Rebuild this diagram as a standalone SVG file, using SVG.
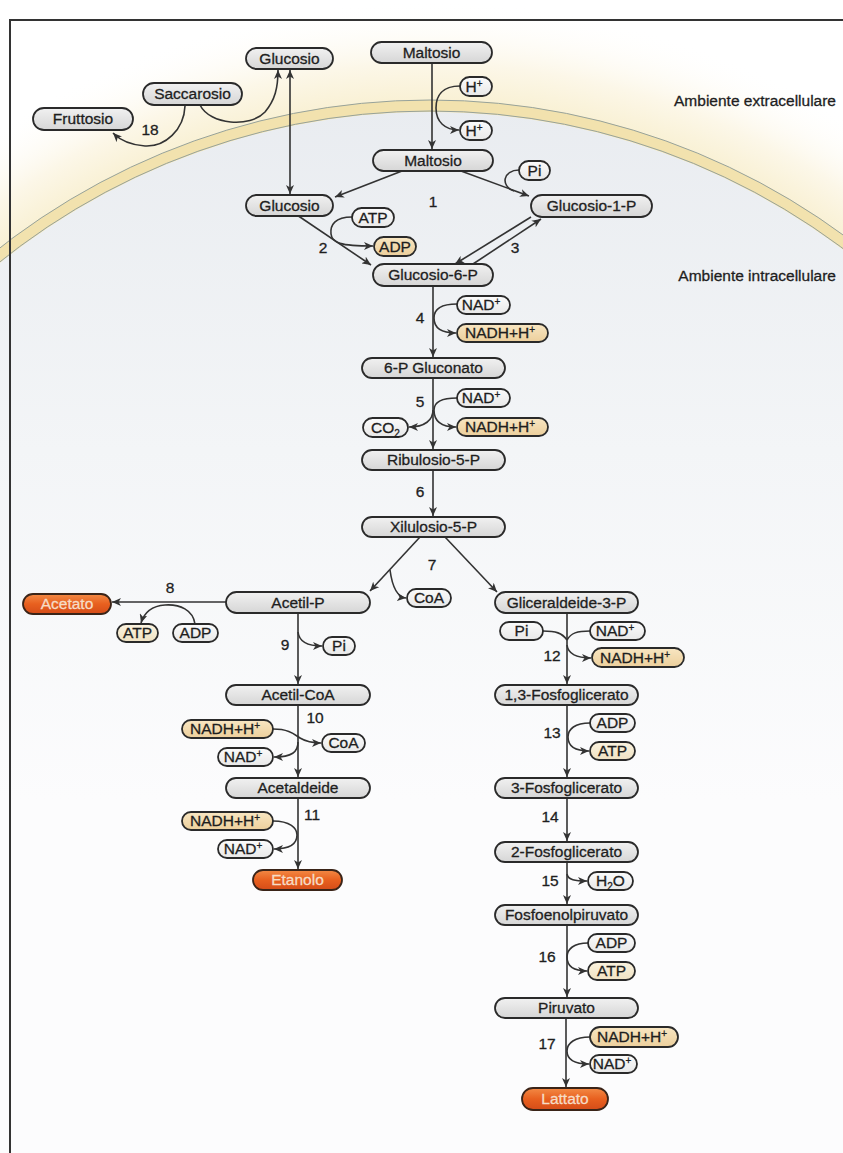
<svg xmlns="http://www.w3.org/2000/svg" width="843" height="1153" viewBox="0 0 843 1153">
<defs>
<style>
.box{stroke:#2a2a2a;stroke-width:1.8}
.g{fill:url(#gGray)}
.w{fill:url(#gWhite)}
.y{fill:url(#gYel)}
.c{fill:url(#gCream)}
.o{fill:url(#gOra);stroke:#3a2418}
text{font-family:"Liberation Sans",Arial,Helvetica,sans-serif;font-size:15.5px;fill:#1e1e1e;stroke:#1e1e1e;stroke-width:0.3;text-anchor:middle}
.ot{fill:#f6dcc6;stroke:#f6dcc6}
.amb{text-anchor:end}
.ln{fill:none;stroke:#333;stroke-width:1.6}
.ar{marker-end:url(#arr)}
.bi{marker-end:url(#arr);marker-start:url(#arrS)}
</style>
<marker id="arr" markerUnits="userSpaceOnUse" markerWidth="10" markerHeight="8" refX="9" refY="4" orient="auto"><path d="M0,0 L9,4 L0,8 L2.5,4 Z" fill="#333"/></marker>
<marker id="arrS" markerUnits="userSpaceOnUse" markerWidth="10" markerHeight="8" refX="9" refY="4" orient="auto-start-reverse"><path d="M0,0 L9,4 L0,8 L2.5,4 Z" fill="#333"/></marker>
<linearGradient id="gGray" x1="0" y1="0" x2="0" y2="1"><stop offset="0" stop-color="#f1f1f1"/><stop offset="1" stop-color="#d6d6d6"/></linearGradient>
<linearGradient id="gWhite" x1="0" y1="0" x2="0" y2="1"><stop offset="0" stop-color="#fbfbfb"/><stop offset="1" stop-color="#e8e8e8"/></linearGradient>
<linearGradient id="gYel" x1="0" y1="0" x2="0" y2="1"><stop offset="0" stop-color="#f8e6c2"/><stop offset="1" stop-color="#eccf9c"/></linearGradient>
<linearGradient id="gCream" x1="0" y1="0" x2="0" y2="1"><stop offset="0" stop-color="#fbf3df"/><stop offset="1" stop-color="#efe2c3"/></linearGradient>
<linearGradient id="gOra" x1="0" y1="0" x2="0" y2="1"><stop offset="0" stop-color="#f38a45"/><stop offset="0.5" stop-color="#e8601f"/><stop offset="1" stop-color="#d54c18"/></linearGradient>
<radialGradient id="glow" gradientUnits="userSpaceOnUse" cx="430" cy="800" r="800"><stop offset="0.86" stop-color="#f8efcf"/><stop offset="0.92" stop-color="#fcf7e8"/><stop offset="1" stop-color="#ffffff" stop-opacity="0"/></radialGradient>
<linearGradient id="inner" gradientUnits="userSpaceOnUse" x1="0" y1="100" x2="0" y2="800"><stop offset="0" stop-color="#e9ecf0"/><stop offset="0.5" stop-color="#f3f5f7"/><stop offset="1" stop-color="#fcfcfd"/></linearGradient>
</defs>
<rect x="0" y="0" width="843" height="1153" fill="#ffffff"/>
<g id="membrane">
<circle cx="430" cy="800" r="800" fill="url(#glow)"/>
<circle cx="430" cy="800" r="694" fill="none" stroke="#f2e2ae" stroke-width="12"/>
<circle cx="430" cy="800" r="688" fill="url(#inner)"/>
<circle cx="430" cy="800" r="700" fill="none" stroke="#97a29a" stroke-width="1"/>
<circle cx="430" cy="800" r="689" fill="none" stroke="#97a29a" stroke-width="1"/>
</g>
<g id="frame">
<path d="M10,1153 V20 H843" fill="none" stroke="#333" stroke-width="2"/>
</g>
<text class="amb" x="836" y="106">Ambiente extracellulare</text>
<text class="amb" x="836" y="281">Ambiente intracellulare</text>
<g id="connectors">
<path class="ln ar" d="M432,63 V149"/>
<path class="ln ar" d="M460,86 C442,86 436,96 436,108 C436,122 445,130 459,130"/>
<path class="ln bi" d="M290,70 V194"/>
<path class="ln ar" d="M200,105 C210,125 250,128 265,112 C275,100 278,88 278,70"/>
<path class="ln ar" d="M185,106 C184,130 165,147 145,146 C130,145 120,140 113,133"/>
<path class="ln ar" d="M402,171 L335,197"/>
<path class="ln ar" d="M461,171 L529,196"/>
<path class="ln" d="M519,170 C503,170 500,186 514,191"/>
<path class="ln ar" d="M297,215 L371,265"/>
<path class="ln ar" d="M352,217 C335,217 330,225 331,234 C332,243 340,246 373,246"/>
<path class="ln ar" d="M531,217 L455,264"/>
<path class="ln ar" d="M473,264 L541,219"/>
<path class="ln ar" d="M433,286 V357"/>
<path class="ln ar" d="M457,304 C440,304 434,310 434,318 C434,327 440,333 456,333"/>
<path class="ln ar" d="M433,378 V449"/>
<path class="ln ar" d="M457,398 C440,398 434,403 434,410 C434,420 440,427 456,427"/>
<path class="ln ar" d="M433,410 C433,420 425,427 409,427"/>
<path class="ln ar" d="M433,470 V516"/>
<path class="ln ar" d="M420,537 L370,591"/>
<path class="ln ar" d="M445,537 L497,592"/>
<path class="ln ar" d="M390,570 C392,585 396,597 406,598"/>
<path class="ln ar" d="M226,602 L112,602"/>
<path class="ln ar" d="M195,624 C193,610 180,604 165,605 C152,606 144,613 141,623"/>
<path class="ln ar" d="M298,613 V684"/>
<path class="ln ar" d="M298,632 C299,641 306,646 322,646"/>
<path class="ln ar" d="M298,705 V777"/>
<path class="ln ar" d="M273,729 C290,729 295,735 300,738 C305,741 312,743 321,743"/>
<path class="ln ar" d="M298,742 C298,752 292,757 274,757"/>
<path class="ln ar" d="M298,798 V869"/>
<path class="ln ar" d="M273,821 C290,821 297,828 297,835 C297,844 290,849 274,849"/>
<path class="ln ar" d="M567,613 V684"/>
<path class="ln" d="M543,631 C556,631 562,633 567,640"/>
<path class="ln" d="M590,631 C577,631 571,633 567,640"/>
<path class="ln ar" d="M567,645 C568,653 575,658 591,658"/>
<path class="ln ar" d="M567,705 V777"/>
<path class="ln ar" d="M590,723 C575,723 568,729 568,737 C568,746 575,751 589,751"/>
<path class="ln ar" d="M567,798 V841"/>
<path class="ln ar" d="M567,862 V904"/>
<path class="ln ar" d="M567,874 C568,880 575,881 587,881"/>
<path class="ln ar" d="M567,925 V997"/>
<path class="ln ar" d="M588,943 C574,943 567,949 567,957 C567,966 574,971 587,971"/>
<path class="ln ar" d="M566,1018 V1087"/>
<path class="ln ar" d="M590,1037 C575,1037 567,1043 567,1051 C567,1059 574,1064 589,1064"/>
</g>
<g id="labels">
<text x="150" y="135">18</text>
<text x="433" y="207">1</text>
<text x="323" y="253">2</text>
<text x="515" y="253">3</text>
<text x="420" y="323">4</text>
<text x="420" y="407">5</text>
<text x="420" y="497">6</text>
<text x="432" y="570">7</text>
<text x="170" y="593">8</text>
<text x="285" y="650">9</text>
<text x="315" y="723">10</text>
<text x="312" y="820">11</text>
<text x="552" y="661">12</text>
<text x="552" y="738">13</text>
<text x="550" y="822">14</text>
<text x="550" y="886">15</text>
<text x="547" y="962">16</text>
<text x="547" y="1049">17</text>
</g>
<g id="n_glucosio_ext"><rect class="box g" x="246" y="48" width="87" height="21" rx="10.5"/><text x="289.5" y="63.5">Glucosio</text></g>
<g id="n_maltosio_ext"><rect class="box g" x="371" y="42" width="121" height="21" rx="10.5"/><text x="431.5" y="57.5">Maltosio</text></g>
<g id="n_saccarosio"><rect class="box g" x="143" y="83" width="99" height="22" rx="11"/><text x="192.5" y="99">Saccarosio</text></g>
<g id="n_fruttosio"><rect class="box g" x="33" y="108" width="100" height="22" rx="11"/><text x="83" y="124">Fruttosio</text></g>
<g id="n_h_out"><rect class="box w" x="460" y="77" width="32" height="19" rx="9.5"/><text x="474" y="91.5">H<tspan dy="-5" font-size="10">+</tspan></text></g>
<g id="n_h_in"><rect class="box w" x="460" y="121" width="32" height="19" rx="9.5"/><text x="474" y="135.5">H<tspan dy="-5" font-size="10">+</tspan></text></g>
<g id="n_maltosio_int"><rect class="box g" x="373" y="150" width="120" height="21" rx="10.5"/><text x="433" y="165.5">Maltosio</text></g>
<g id="n_pi1"><rect class="box w" x="519" y="161" width="31" height="19" rx="9.5"/><text x="534.5" y="175.5">Pi</text></g>
<g id="n_glucosio_int"><rect class="box g" x="246" y="195" width="87" height="21" rx="10.5"/><text x="289.5" y="210.5">Glucosio</text></g>
<g id="n_g1p"><rect class="box g" x="531" y="195" width="121" height="22" rx="11"/><text x="591.5" y="211">Glucosio-1-P</text></g>
<g id="n_atp2"><rect class="box w" x="352" y="208" width="42" height="19" rx="9.5"/><text x="373" y="222.5">ATP</text></g>
<g id="n_adp2"><rect class="box y" x="374" y="237" width="42" height="19" rx="9.5"/><text x="395" y="251.5">ADP</text></g>
<g id="n_g6p"><rect class="box g" x="373" y="264" width="120" height="22" rx="11"/><text x="433" y="280">Glucosio-6-P</text></g>
<g id="n_nad4"><rect class="box w" x="457" y="296" width="53" height="18" rx="9"/><text x="481" y="310">NAD<tspan dy="-5" font-size="10">+</tspan></text></g>
<g id="n_nadh4"><rect class="box y" x="457" y="324" width="91" height="18" rx="9"/><text x="500" y="338">NADH+H<tspan dy="-5" font-size="10">+</tspan></text></g>
<g id="n_6pg"><rect class="box g" x="362" y="358" width="143" height="20" rx="10"/><text x="433.5" y="373">6-P Gluconato</text></g>
<g id="n_nad5"><rect class="box w" x="457" y="389" width="53" height="18" rx="9"/><text x="481" y="403">NAD<tspan dy="-5" font-size="10">+</tspan></text></g>
<g id="n_nadh5"><rect class="box y" x="457" y="418" width="91" height="18" rx="9"/><text x="500" y="432">NADH+H<tspan dy="-5" font-size="10">+</tspan></text></g>
<g id="n_co2"><rect class="box w" x="363" y="418" width="45" height="19" rx="9.5"/><text x="385.5" y="432.5">CO<tspan dy="4" font-size="10">2</tspan></text></g>
<g id="n_ribulosio"><rect class="box g" x="362" y="450" width="143" height="20" rx="10"/><text x="433.5" y="465">Ribulosio-5-P</text></g>
<g id="n_xilulosio"><rect class="box g" x="362" y="517" width="143" height="20" rx="10"/><text x="433.5" y="532">Xilulosio-5-P</text></g>
<g id="n_acetilp"><rect class="box g" x="226" y="592" width="144" height="21" rx="10.5"/><text x="298" y="607.5">Acetil-P</text></g>
<g id="n_coa7"><rect class="box w" x="407" y="589" width="44" height="18" rx="9"/><text x="429" y="603">CoA</text></g>
<g id="n_gap"><rect class="box g" x="495" y="592" width="143" height="21" rx="10.5"/><text x="566.5" y="607.5">Gliceraldeide-3-P</text></g>
<g id="n_acetato"><rect class="box o" x="23" y="594" width="88" height="20" rx="10"/><text class="ot" x="67" y="609">Acetato</text></g>
<g id="n_atp8"><rect class="box c" x="117" y="624" width="41" height="18" rx="9"/><text x="137.5" y="638">ATP</text></g>
<g id="n_adp8"><rect class="box w" x="173" y="624" width="45" height="18" rx="9"/><text x="195.5" y="638">ADP</text></g>
<g id="n_pi9"><rect class="box w" x="323" y="637" width="32" height="18" rx="9"/><text x="339" y="651">Pi</text></g>
<g id="n_pi12"><rect class="box w" x="500" y="622" width="43" height="18" rx="9"/><text x="521.5" y="636">Pi</text></g>
<g id="n_nad12"><rect class="box w" x="590" y="622" width="55" height="18" rx="9"/><text x="615" y="636">NAD<tspan dy="-5" font-size="10">+</tspan></text></g>
<g id="n_nadh12"><rect class="box y" x="592" y="648" width="92" height="19" rx="9.5"/><text x="635" y="662.5">NADH+H<tspan dy="-5" font-size="10">+</tspan></text></g>
<g id="n_13bpg"><rect class="box g" x="495" y="685" width="143" height="20" rx="10"/><text x="566.5" y="700">1,3-Fosfoglicerato</text></g>
<g id="n_acetilcoa"><rect class="box g" x="226" y="685" width="144" height="20" rx="10"/><text x="298" y="700">Acetil-CoA</text></g>
<g id="n_nadh10"><rect class="box y" x="182" y="720" width="91" height="18" rx="9"/><text x="225" y="734">NADH+H<tspan dy="-5" font-size="10">+</tspan></text></g>
<g id="n_coa10"><rect class="box w" x="322" y="734" width="43" height="18" rx="9"/><text x="343.5" y="748">CoA</text></g>
<g id="n_nad10"><rect class="box w" x="218" y="748" width="55" height="18" rx="9"/><text x="243" y="762">NAD<tspan dy="-5" font-size="10">+</tspan></text></g>
<g id="n_acetaldeide"><rect class="box g" x="226" y="778" width="144" height="20" rx="10"/><text x="298" y="793">Acetaldeide</text></g>
<g id="n_nadh11"><rect class="box y" x="182" y="812" width="91" height="18" rx="9"/><text x="225" y="826">NADH+H<tspan dy="-5" font-size="10">+</tspan></text></g>
<g id="n_nad11"><rect class="box w" x="218" y="840" width="55" height="18" rx="9"/><text x="243" y="854">NAD<tspan dy="-5" font-size="10">+</tspan></text></g>
<g id="n_etanolo"><rect class="box o" x="253" y="870" width="89" height="20" rx="10"/><text class="ot" x="297.5" y="885">Etanolo</text></g>
<g id="n_adp13"><rect class="box w" x="590" y="714" width="45" height="18" rx="9"/><text x="612.5" y="728">ADP</text></g>
<g id="n_atp13"><rect class="box c" x="590" y="742" width="45" height="18" rx="9"/><text x="612.5" y="756">ATP</text></g>
<g id="n_3pg"><rect class="box g" x="495" y="778" width="143" height="20" rx="10"/><text x="566.5" y="793">3-Fosfoglicerato</text></g>
<g id="n_2pg"><rect class="box g" x="495" y="842" width="143" height="20" rx="10"/><text x="566.5" y="857">2-Fosfoglicerato</text></g>
<g id="n_h2o"><rect class="box w" x="588" y="872" width="45" height="18" rx="9"/><text x="610.5" y="886">H<tspan dy="4" font-size="10">2</tspan><tspan dy="-4">O</tspan></text></g>
<g id="n_pep"><rect class="box g" x="495" y="905" width="143" height="20" rx="10"/><text x="566.5" y="920">Fosfoenolpiruvato</text></g>
<g id="n_adp16"><rect class="box w" x="588" y="934" width="47" height="18" rx="9"/><text x="611.5" y="948">ADP</text></g>
<g id="n_atp16"><rect class="box c" x="588" y="962" width="47" height="18" rx="9"/><text x="611.5" y="976">ATP</text></g>
<g id="n_piruvato"><rect class="box g" x="495" y="998" width="143" height="20" rx="10"/><text x="566.5" y="1013">Piruvato</text></g>
<g id="n_nadh17"><rect class="box y" x="590" y="1027" width="88" height="20" rx="10"/><text x="632" y="1042">NADH+H<tspan dy="-5" font-size="10">+</tspan></text></g>
<g id="n_nad17"><rect class="box w" x="590" y="1055" width="47" height="18" rx="9"/><text x="612" y="1069">NAD<tspan dy="-5" font-size="10">+</tspan></text></g>
<g id="n_lattato"><rect class="box o" x="522" y="1088" width="86" height="22" rx="11"/><text class="ot" x="565" y="1104">Lattato</text></g>
</svg>
